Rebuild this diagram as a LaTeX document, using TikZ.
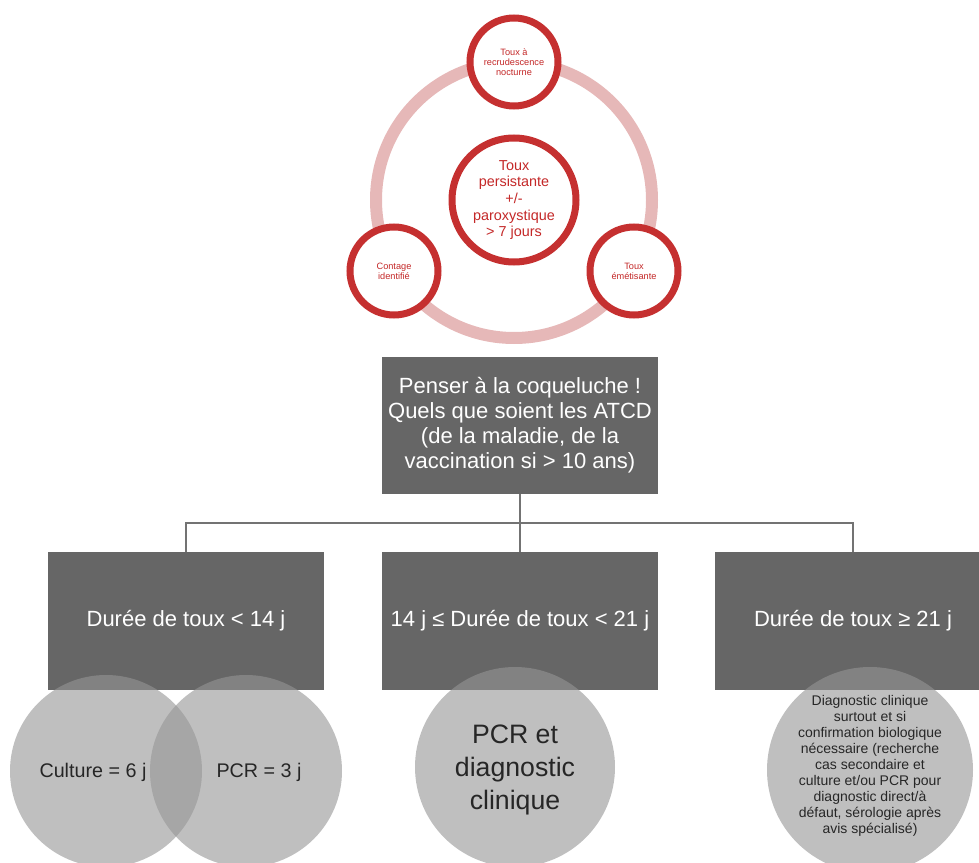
\documentclass[tikz,border=0pt]{standalone}
\usepackage{fontspec}
\setmainfont{Liberation Sans}
\definecolor{cred}{RGB}{197,48,48}
\definecolor{ctxt}{RGB}{196,40,40}
\definecolor{cring}{RGB}{230,184,184}
\definecolor{cbox}{RGB}{102,102,102}
\definecolor{cdisc}{RGB}{149,149,149}
\definecolor{cline}{RGB}{115,115,115}
\tikzset{
  redc/.style={circle, draw=cred, line width=5.25pt, fill=white, text=ctxt, align=center, inner sep=0pt},
  graybox/.style={rectangle, fill=cbox, text=white, align=center, minimum width=207pt, minimum height=103pt, inner sep=0pt,
    font=\fontsize{16.5}{18.75}\selectfont},
  disc/.style={circle, fill=cdisc, fill opacity=0.6, draw=none, inner sep=0pt},
  disctext/.style={text=black!85, align=center, inner sep=0pt},
  conn/.style={draw=cline, line width=1.1pt}
}
\begin{document}
\begin{tikzpicture}[x=0.75pt,y=-0.75pt]
\useasboundingbox (0,0) rectangle (979,863);
% ring
\coordinate (rc) at (514,200);
\draw[cring, line width=9pt] (rc) circle[radius=103.5pt];
% red circles
\node[redc, minimum size=93pt, font=\fontsize{10.8}{12.5}\selectfont] (centre) at (514,200) {Toux\\persistante\\+/-\\paroxystique\\> 7 jours};
\node[redc, minimum size=66pt, font=\fontsize{6.9}{7.5}\selectfont] (top) at (514,62) {Toux à\\recrudescence\\nocturne};
\node[redc, minimum size=66pt, font=\fontsize{6.9}{7.5}\selectfont] (left) at (394,271) {Contage\\identifié};
\node[redc, minimum size=66pt, font=\fontsize{6.9}{7.5}\selectfont] (right) at (634,271) {Toux\\émétisante};
% boxes
\node[graybox] (main) at (520,425.5) {Penser à la coqueluche !\\Quels que soient les ATCD\\(de la maladie, de la\\vaccination si > 10 ans)};
\node[graybox] (b1) at (186,621) {Durée de toux < 14 j};
\node[graybox] (b2) at (520,621) {14 j ≤ Durée de toux < 21 j};
\node[graybox] (b3) at (853,621) {Durée de toux ≥ 21 j};
% connectors
\coordinate (hub) at (520,523);
\draw[conn] (main.south) -- (hub);
\draw[conn] (hub) -| (b1.north);
\draw[conn] (hub) -| (b3.north);
\draw[conn] (hub) -- (b2.north);
% discs
\node[disc, minimum size=144pt] (v1) at (106,771) {};
\node[disc, minimum size=144pt] (v2) at (246,771) {};
\node[disc, minimum size=150pt] (d2) at (515,767) {};
\node[disc, minimum size=154.5pt] (d3) at (870,770) {};
\node[disctext, font=\fontsize{14.8}{17}\selectfont] (t1) at (93,772) {Culture = 6 j};
\node[disctext, font=\fontsize{14.8}{17}\selectfont] (t2) at (259,772) {PCR = 3 j};
\node[disctext, font=\fontsize{20}{25}\selectfont] (t3) at (515,770) {PCR et\\diagnostic\\clinique};
\node[disctext, font=\fontsize{10.5}{12}\selectfont] (t4) at (870,766) {Diagnostic clinique\\surtout et si\\confirmation biologique\\nécessaire (recherche\\cas secondaire et\\culture et/ou PCR pour\\diagnostic direct/à\\défaut, sérologie après\\avis spécialisé)};
\end{tikzpicture}
\end{document}
